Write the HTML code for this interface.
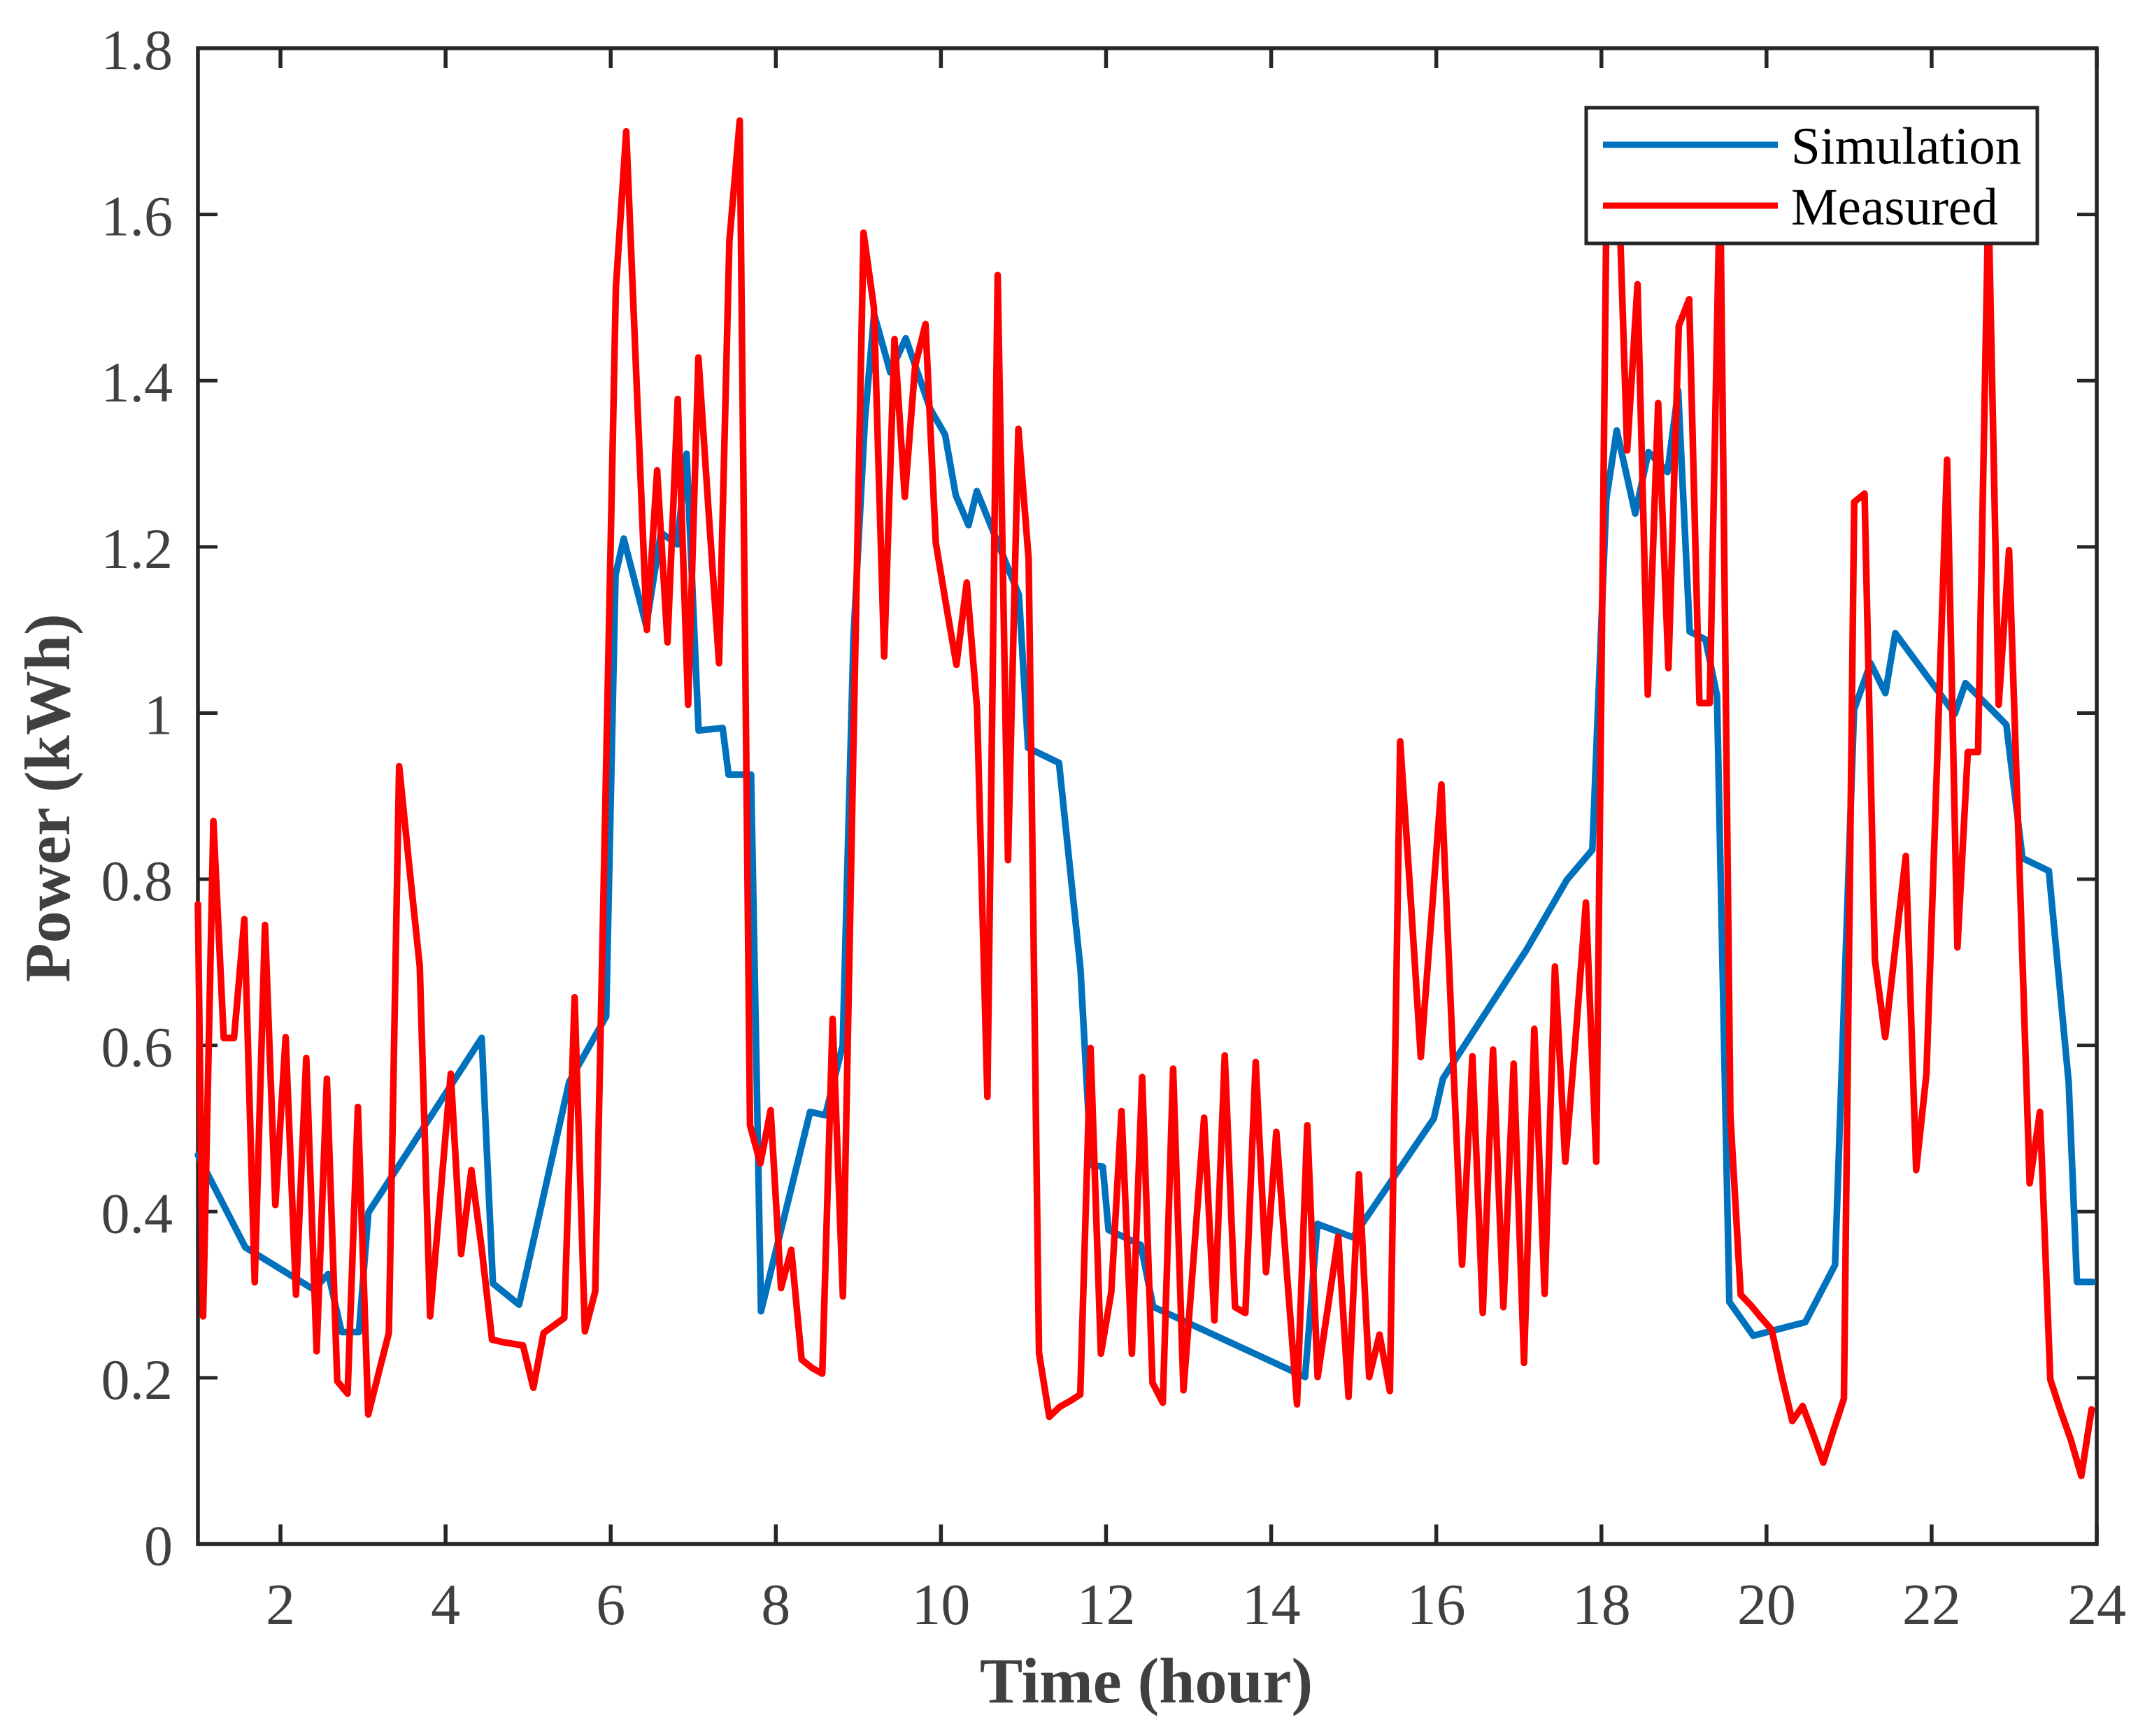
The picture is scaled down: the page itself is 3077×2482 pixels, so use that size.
<!DOCTYPE html>
<html lang="en">
<head>
<meta charset="utf-8">
<title>Power vs Time</title>
<style>
html,body{margin:0;padding:0;background:#fff;}
svg{display:block;}
text{font-family:"Liberation Serif","Times New Roman",serif;}
</style>
</head>
<body>
<svg id="chart" xmlns="http://www.w3.org/2000/svg" width="3077" height="2482" viewBox="0 0 3077 2482">
  <rect x="0" y="0" width="3077" height="2482" fill="#fff"/>
  <g id="axes"></g>
  <g id="series"></g>
  <text x="1639" y="2434" text-anchor="middle" font-size="92" font-weight="bold" fill="#404040">Time (hour)</text>
  <text transform="translate(99,1141) rotate(-90)" text-anchor="middle" font-size="92" font-weight="bold" fill="#404040">Power (kWh)</text>
  <g>
    <rect x="2268" y="154" width="645" height="194" fill="#fff" stroke="#262626" stroke-width="5"/>
    <line x1="2292" y1="207" x2="2542" y2="207" stroke="#0072BD" stroke-width="9"/>
    <text x="2561" y="234" font-size="75" fill="#000">Simulation</text>
    <line x1="2292" y1="294" x2="2542" y2="294" stroke="#FF0000" stroke-width="9"/>
    <text x="2561" y="321" font-size="75" fill="#000">Measured</text>
  </g>
</svg>
<script>
const xTicks = [2,4,6,8,10,12,14,16,18,20,22,24];
const yTicks = [0,0.2,0.4,0.6,0.8,1,1.2,1.4,1.6,1.8];
const yTickLabels = ["0","0.2","0.4","0.6","0.8","1","1.2","1.4","1.6","1.8"];

const simulationHours = [1,1.574,2.40,2.58,2.74,2.95,3.065,4.437,4.573,4.89,5.497,5.945,6.058,6.157,6.43,6.608,6.806,6.919,7.065,7.356,7.427,7.70,7.82,8.415,8.60,8.81,8.94,9.08,9.19,9.387,9.574,9.87,10.05,10.18,10.335,10.435,10.945,11.056,11.43,11.69,11.82,11.96,12.03,12.42,12.57,14.41,14.56,14.99,15.97,16.08,17.09,17.58,17.89,18.06,18.185,18.41,18.57,18.80,18.93,19.07,19.26,19.40,19.55,19.84,20.47,20.83,21.06,21.26,21.44,21.56,22.28,22.41,22.905,23.10,23.42,23.66,23.76,23.95];
const simulationPower = [0.468,0.357,0.3065,0.325,0.255,0.255,0.399,0.609,0.3136,0.288,0.556,0.635,1.166,1.21,1.105,1.217,1.203,1.312,0.979,0.982,0.926,0.926,0.28,0.52,0.516,0.60,1.09,1.354,1.48,1.41,1.451,1.366,1.335,1.262,1.226,1.267,1.142,0.958,0.94,0.692,0.456,0.454,0.378,0.36,0.2855,0.201,0.3852,0.369,0.512,0.56,0.7146,0.799,0.8354,1.2577,1.34,1.24,1.314,1.29,1.388,1.098,1.0886,1.021,0.2913,0.2507,0.267,0.3358,1.004,1.06,1.024,1.096,0.999,1.036,0.986,0.8254,0.81,0.555,0.3154,0.3154];

const measuredPower = [0.77,
0.274,0.87,0.609,0.609,0.752,0.315,0.745,0.408,0.61,0.30,
0.585,0.232,0.56,0.196,0.181,0.526,0.156,0.205,0.254,0.936,
0.813,0.695,0.274,0.42,0.566,0.349,0.45,0.355,0.246,0.243,
0.241,0.239,0.188,0.254,0.263,0.272,0.658,0.256,0.304,0.90,
1.512,1.70,1.40,1.10,1.292,1.085,1.378,1.01,1.428,1.24,
1.06,1.568,1.713,0.504,0.458,0.522,0.308,0.354,0.222,0.212,
0.205,0.632,0.298,0.95,1.578,1.488,1.068,1.45,1.26,1.418,
1.468,1.205,1.13,1.058,1.157,1.006,0.538,1.527,0.823,1.342,
1.185,0.23,0.153,0.165,0.172,0.18,0.597,0.229,0.303,0.521,
0.229,0.562,0.194,0.17,0.572,0.185,0.347,0.513,0.269,0.588,
0.285,0.278,0.58,0.327,0.496,0.33,0.168,0.504,0.201,0.285,
0.37,0.177,0.445,0.201,0.252,0.184,0.966,0.78,0.586,0.75,
0.914,0.62,0.336,0.587,0.278,0.595,0.285,0.578,0.218,0.62,
0.301,0.695,0.46,0.61,0.772,0.46,1.62,1.70,1.316,1.516,
1.022,1.373,1.054,1.466,1.498,1.012,1.012,1.65,0.515,0.30,
0.287,0.272,0.258,0.2,0.148,0.166,0.133,0.098,0.137,0.175,
1.254,1.264,0.703,0.61,0.72,0.828,0.45,0.566,0.93,1.305,
0.718,0.953,0.953,1.62,1.01,1.196,0.82,0.434,0.52,0.198,
0.16,0.125,0.082,0.162];
const measuredSampleStepHours = 0.125;

const SVG_NS = "http://www.w3.org/2000/svg";
const axLeft = 283, axRight = 2998, axTop = 69, axBottom = 2207.5;
const xMin = 1, xMax = 24, yMin = 0, yMax = 1.8;
const tickLen = 28, axisColor = "#262626", labelColor = "#404040";

function xScale(h){ return axLeft + (h - xMin) * (axRight - axLeft) / (xMax - xMin); }
function yScale(v){ return axBottom - (v - yMin) * (axBottom - axTop) / (yMax - yMin); }
function measuredHour(i){ return Math.max(xMin, xMin + (i - 0.5) * measuredSampleStepHours); }

function make(tag, attrs, parent){
  const el = document.createElementNS(SVG_NS, tag);
  for (const k in attrs) el.setAttribute(k, attrs[k]);
  parent.appendChild(el);
  return el;
}

const axes = document.getElementById("axes");
const series = document.getElementById("series");

const frame = make("rect", {x:axLeft, y:axTop, width:axRight-axLeft, height:axBottom-axTop, fill:"none", stroke:axisColor, "stroke-width":5.5}, axes);



xTicks.forEach(function(t){
  const x = xScale(t);
  const bottomTick = make("line", {x1:x, y1:axBottom, x2:x, y2:axBottom-tickLen, stroke:axisColor, "stroke-width":5.5}, axes);
  
  
  const topTick = make("line", {x1:x, y1:axTop, x2:x, y2:axTop+tickLen, stroke:axisColor, "stroke-width":5.5}, axes);
  
  
  const label = make("text", {x:x, y:2322, "text-anchor":"middle", "font-size":84, fill:labelColor}, axes);
  
  
  label.textContent = String(t);
});

yTicks.forEach(function(t, i){
  const y = yScale(t);
  const leftTick = make("line", {x1:axLeft, y1:y, x2:axLeft+tickLen, y2:y, stroke:axisColor, "stroke-width":5}, axes);
  
  
  const rightTick = make("line", {x1:axRight, y1:y, x2:axRight-tickLen, y2:y, stroke:axisColor, "stroke-width":5}, axes);
  
  
  const label = make("text", {x:247, y:y+30, "text-anchor":"end", "font-size":82, fill:labelColor}, axes);
  
  
  label.textContent = yTickLabels[i];
});

const simPoints = simulationPower.map(function(v, i){ return xScale(simulationHours[i]).toFixed(1) + "," + yScale(v).toFixed(1); }).join(" ");
const simLine = make("polyline", {points:simPoints, fill:"none", stroke:"#0072BD", "stroke-width":9.5, "stroke-linejoin":"round", "stroke-linecap":"round"}, series);



const measPoints = measuredPower.map(function(v, i){ return xScale(measuredHour(i)).toFixed(1) + "," + yScale(v).toFixed(1); }).join(" ");
const measLine = make("polyline", {points:measPoints, fill:"none", stroke:"#FF0000", "stroke-width":9.5, "stroke-linejoin":"round", "stroke-linecap":"round"}, series);


</script>
</body>
</html>
